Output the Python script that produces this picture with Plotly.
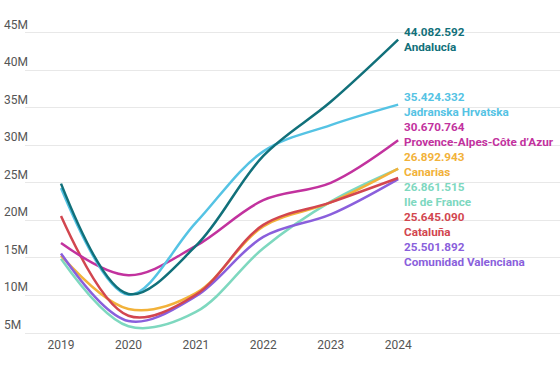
import plotly.graph_objects as go

years = [2019, 2020, 2021, 2022, 2023, 2024]

regions = ["Andalucía", "Jadranska Hrvatska", "Provence-Alpes-Côte d’Azur", "Canarias",
           "Ile de France", "Cataluña", "Comunidad Valenciana"]

andalucia = [24.9e6, 10.2e6, 16.6e6, 28.6e6, 35.8e6, 44082592]
jadranska = [24.3e6, 10.1e6, 19.7e6, 29.2e6, 32.7e6, 35424332]
provence = [17.0e6, 12.7e6, 16.6e6, 22.7e6, 25.0e6, 30670764]
canarias = [15.3e6, 8.2e6, 10.3e6, 19.2e6, 22.4e6, 26892943]
iledefrance = [14.9e6, 5.9e6, 7.8e6, 16.3e6, 22.5e6, 26861515]
cataluna = [20.6e6, 7.3e6, 10.1e6, 19.4e6, 22.4e6, 25645090]
valenciana = [15.6e6, 6.6e6, 9.9e6, 17.8e6, 20.8e6, 25501892]

series = [andalucia, jadranska, provence, canarias, iledefrance, cataluna, valenciana]
colors = ["#11707a", "#55c3e4", "#c2329e", "#f2b23a", "#7ed8bf", "#d2464f", "#8a5fdc"]
value_labels = ["44.082.592", "35.424.332", "30.670.764", "26.892.943",
                "26.861.515", "25.645.090", "25.501.892"]
# label anchor positions (in axis units) for the value line of each end label
label_y = [45.13e6, 36.47e6, 32.47e6, 28.47e6, 24.47e6, 20.47e6, 16.47e6]

fig = go.Figure()
order = [4, 3, 6, 5, 2, 1, 0]
for i in order:
    fig.add_trace(go.Scatter(
        x=years, y=series[i], mode="lines", name=regions[i],
        line=dict(color=colors[i], width=2.5, shape="spline", smoothing=1.0),
        hoverinfo="skip", showlegend=False))

annotations = []
for i in range(len(regions)):
    annotations.append(dict(x=2024, y=label_y[i], xref="x", yref="y", xshift=4,
                            text="<b>" + value_labels[i] + "</b>", showarrow=False,
                            xanchor="left", yanchor="middle",
                            font=dict(family="Roboto", size=11.7, color=colors[i])))
    annotations.append(dict(x=2024, y=label_y[i] - 2e6, xref="x", yref="y", xshift=4,
                            text="<b>" + regions[i] + "</b>", showarrow=False,
                            xanchor="left", yanchor="middle",
                            font=dict(family="Roboto", size=11.7, color=colors[i])))

fig.update_layout(
    width=560, height=369,
    margin=dict(l=0, r=0, t=14.25, b=30, autoexpand=False),
    paper_bgcolor="white", plot_bgcolor="white",
    font=dict(family="Roboto", size=12, color="#555555"),
    xaxis=dict(domain=[25 / 560, 1], range=[2018.466, 2026.40], tickvals=years,
               anchor="free", position=0.01, automargin=False,
               showgrid=False, zeroline=False, showline=False, ticks="",
               tickfont=dict(size=12, color="#555555")),
    yaxis=dict(range=[4.2e6, 47.5e6], dtick=5e6, tick0=0, tickformat="~s",
               anchor="free", position=0, ticklabelposition="inside top",
               automargin=False,
               showgrid=True, gridcolor="#e8e8e8", gridwidth=1,
               zeroline=False, showline=False, ticks="",
               tickfont=dict(size=12, color="#555555")),
    annotations=annotations,
)

fig.write_html("out.html", config={"displayModeBar": False},
               post_script="document.body.style.margin='0';")
